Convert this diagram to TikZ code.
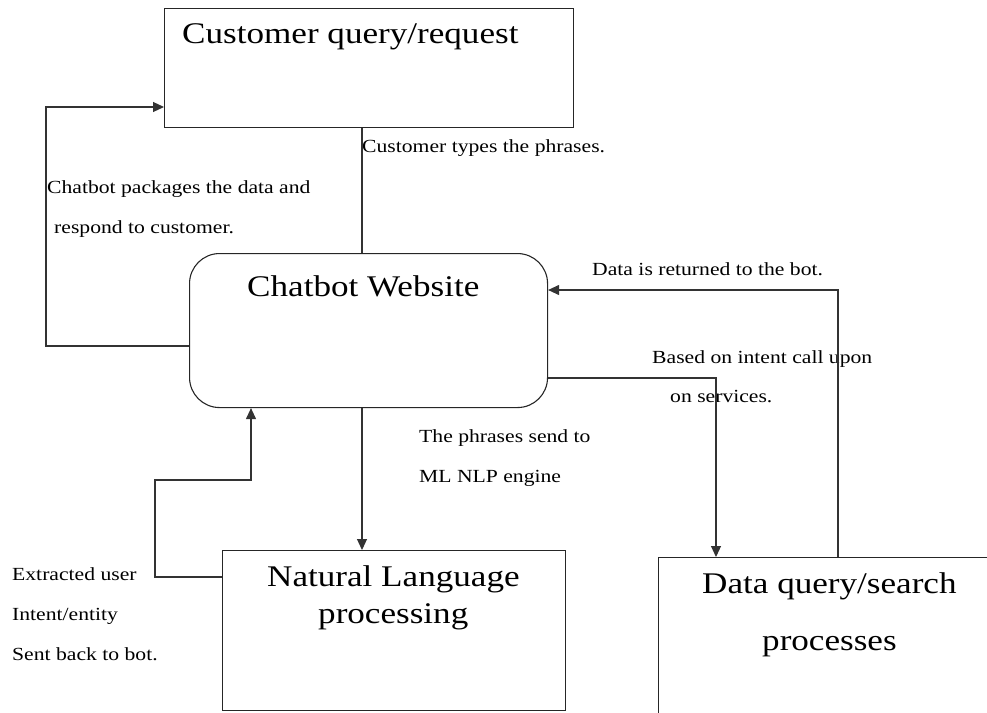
\documentclass[tikz,border=0pt]{standalone}
\usepackage{fontspec}
\setmainfont{Liberation Serif}[FakeStretch=1.17]
\usetikzlibrary{arrows.meta}
\begin{document}
\begin{tikzpicture}[x=1pt,y=-1pt,
  box/.style={draw=black!85,line width=1.1pt,anchor=north west,inner sep=0pt},
  big/.style={anchor=base west,inner sep=0pt,font=\fontsize{30}{34}\selectfont},
  small/.style={anchor=base west,inner sep=0pt,font=\fontsize{18.5}{22}\selectfont},
  conn/.style={draw=black!80,line width=1.1pt},
  arr/.style={conn,-{Triangle[length=11pt,width=10pt]}}]
\useasboundingbox (0,0) rectangle (987,712);
% boxes
\node[box,minimum width=409pt,minimum height=119pt] (top) at (164,8) {};
\node[box,rounded corners=30pt,minimum width=358pt,minimum height=154pt] (chat) at (189,253) {};
\node[box,minimum width=343pt,minimum height=160pt] (nlp) at (222,550) {};
\node[box,minimum width=360pt,minimum height=180pt] (dq) at (658,557) {};
% box titles
\node[big] (ttop) at (182,43) {Customer query/request};
\node[big] (tchat) at (247,296) {Chatbot Website};
\node[big] (tnlp1) at (267,586) {Natural Language};
\node[big] (tnlp2) at (318,623) {processing};
\node[big] (tdq1) at (702,593) {Data query/search};
\node[big] (tdq2) at (762,650) {processes};
% labels
\node[small] (l1) at (362,152) {Customer types the phrases.};
\node[small] (l2a) at (47,193) {Chatbot packages the data and};
\node[small] (l2b) at (54,233) {respond to customer.};
\node[small] (l3) at (592,275) {Data is returned to the bot.};
\node[small] (l4a) at (652,363) {Based on intent call upon};
\node[small] (l4b) at (670,402) {on services.};
\node[small] (l5a) at (419,442) {The phrases send to};
\node[small] (l5b) at (419,482) {ML NLP engine};
\node[small] (l6a) at (12,580) {Extracted user};
\node[small] (l6b) at (12,620) {Intent/entity};
\node[small] (l6c) at (12,660) {Sent back to bot.};
% helper coordinates
\coordinate (x362) at (362,0);
\coordinate (x46) at (46,0);
\coordinate (y346) at (0,346);
\coordinate (y107) at (0,107);
\coordinate (x838) at (838,0);
\coordinate (y290) at (0,290);
\coordinate (x716) at (716,0);
\coordinate (y378) at (0,378);
\coordinate (y577) at (0,577);
\coordinate (x155) at (155,0);
\coordinate (y480) at (0,480);
\coordinate (x251) at (251,0);
% connectors
\draw[conn] (top.south -| x362) -- (chat.north -| x362);
\draw[arr] (chat.west |- y346) -- (x46 |- y346) -- (x46 |- y107) -- (top.west |- y107);
\draw[arr] (dq.north -| x838) -- (x838 |- y290) -- (chat.east |- y290);
\draw[arr] (chat.east |- y378) -- (x716 |- y378) -- (dq.north -| x716);
\draw[arr] (chat.south -| x362) -- (nlp.north -| x362);
\draw[arr] (nlp.west |- y577) -- (x155 |- y577) -- (x155 |- y480) -- (x251 |- y480) -- (chat.south -| x251);
\end{tikzpicture}
\end{document}
